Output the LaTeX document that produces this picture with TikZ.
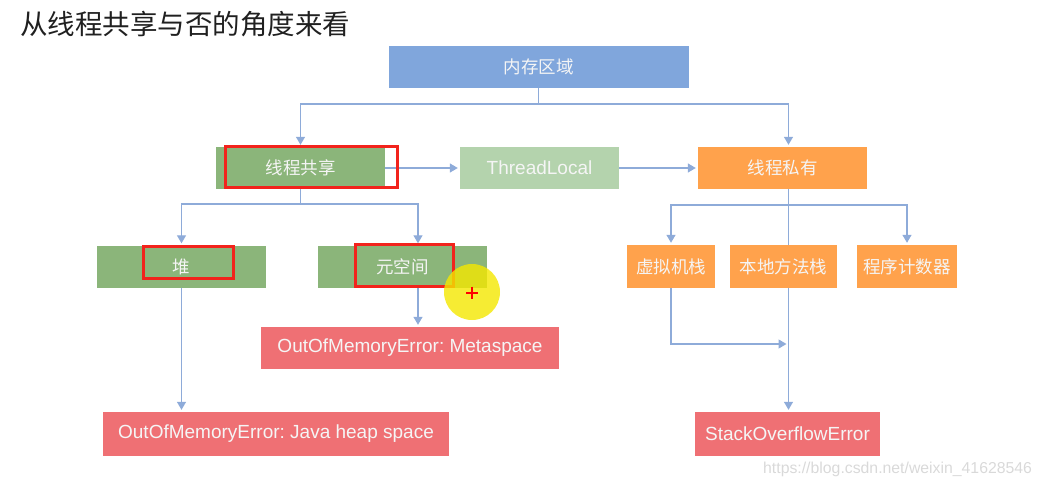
\documentclass[tikz,border=0pt]{standalone}
\usepackage{fontspec}
\setmainfont{Liberation Sans}
\newfontfamily\cjk{Noto Sans CJK SC}
\usetikzlibrary{arrows.meta}
\definecolor{cblue}{HTML}{80A6DC}
\definecolor{cgreen}{HTML}{8BB57A}
\definecolor{cpale}{HTML}{B4D3AD}
\definecolor{corange}{HTML}{FFA24C}
\definecolor{cred}{HTML}{EF7074}
\definecolor{cline}{HTML}{8EABD9}
\definecolor{cframe}{HTML}{F2231C}
\definecolor{ctitle}{HTML}{202020}
\definecolor{cwater}{HTML}{D9D9D9}
\frenchspacing
\begin{document}
\begin{tikzpicture}[x=1pt,y=-1pt,
  box/.style={inner sep=0pt, text=white!96!black, font=\fontsize{19}{19}\selectfont},
  cjkbox/.style={box, font=\cjk\fontsize{17.5}{17.5}\selectfont},
  conn/.style={draw=cline, line width=1.3pt},
  arr/.style={conn, -{Triangle[width=9pt,length=8pt]}, shorten >=2pt},
  frame/.style={draw=cframe, line width=3pt},
]
\useasboundingbox (0,0) rectangle (1044,487);

% title
\node[anchor=west, inner sep=0pt, text=ctitle, font=\cjk\fontsize{27.5}{27.5}\selectfont] (title) at (20,24) {从线程共享与否的角度来看};

% boxes
\node[cjkbox, fill=cblue, minimum width=300pt, minimum height=42pt] (mem) at (538.5,67) {内存区域};
\node[cjkbox, fill=cgreen, minimum width=169pt, minimum height=42pt] (share) at (300.5,168) {线程共享};
\node[box, fill=cpale, minimum width=159pt, minimum height=42pt] (tl) at (539.5,168) {ThreadLocal};
\node[cjkbox, fill=corange, minimum width=169pt, minimum height=42pt] (priv) at (782.5,168) {线程私有};

\node[cjkbox, fill=cgreen, minimum width=169pt, minimum height=42pt] (heap) at (181.5,266.5) {堆};
\node[cjkbox, fill=cgreen, minimum width=169pt, minimum height=42pt] (meta) at (402.5,266.5) {元空间};
\node[cjkbox, fill=corange, minimum width=88pt, minimum height=43pt] (vm) at (671,266.5) {虚拟机栈};
\node[cjkbox, fill=corange, minimum width=107pt, minimum height=43pt] (nat) at (783.5,266.5) {本地方法栈};
\node[cjkbox, fill=corange, minimum width=100pt, minimum height=43pt] (pc) at (907,266.5) {程序计数器};

\node[box, fill=cred, minimum width=298pt, minimum height=42pt] (ms) at (410,348) {OutOfMemoryError: Metaspace};
\node[box, fill=cred, minimum width=346pt, minimum height=44pt] (jh) at (276,434) {OutOfMemoryError: Java heap space};
\node[box, fill=cred, minimum width=185pt, minimum height=44pt] (soe) at (787.5,434) {StackOverflowError};

% connectors
\coordinate (j1) at (538.5,104);
\draw[conn] (mem.south) -- (j1);
\draw[arr] (j1) -| (share.north);
\draw[arr] (j1) -| ([xshift=6pt]priv.north);
\draw[arr] (share.east) -- (tl.west);
\draw[arr] (tl.east) -- (priv.west);

\coordinate (j2) at (300.5,204);
\draw[conn] (share.south) -- (j2);
\draw[arr] (j2) -| (heap.north);
\draw[arr] (j2) -| ([xshift=15.5pt]meta.north);
\draw[arr] ([xshift=15.5pt]meta.south) -- ([xshift=15.5pt]meta.south |- ms.north);
\draw[arr] (heap.south) -- (heap.south |- jh.north);

\coordinate (j3) at (788.5,205);
\draw[conn] ([xshift=6pt]priv.south) -- (j3);
\draw[conn] (j3) -- ([xshift=5pt]nat.north);
\draw[arr] (j3) -| (vm.north);
\draw[arr] (j3) -| (pc.north);
\coordinate (j4) at (788.5,344);
\draw[arr] (vm.south) |- (j4);
\draw[arr] ([xshift=5pt]nat.south) -- ([xshift=5pt]nat.south |- soe.north);

% red frames
\draw[frame] (225,146) rectangle (397,187);
\draw[frame] (143,246) rectangle (233,278);
\draw[frame] (355,244) rectangle (453,286);

% cursor highlight
\fill[yellow!90!olive, opacity=0.8] (472,292) circle[radius=28pt];
\draw[red, line width=2pt] (466,292.5) -- (478,292.5) (472,286.5) -- (472,298.5);

% watermark
\node[anchor=west, inner sep=0pt, text=cwater, font=\fontsize{15.8}{15.8}\selectfont] (wm) at (763,469) {https://blog.csdn.net/weixin\_41628546};
\end{tikzpicture}
\end{document}
